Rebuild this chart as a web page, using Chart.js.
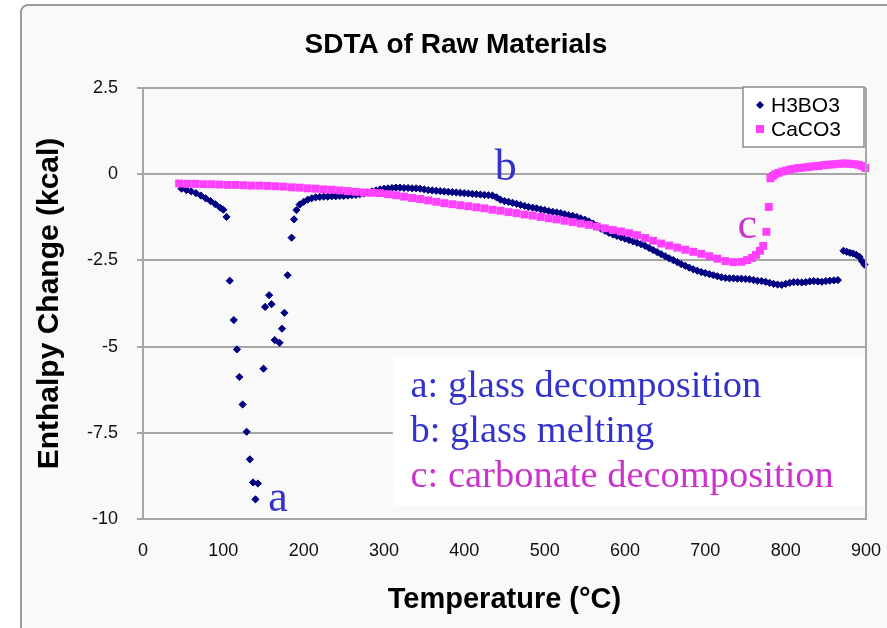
<!DOCTYPE html>
<html>
<head>
<meta charset="utf-8">
<title>SDTA of Raw Materials</title>
<script src="https://cdn.jsdelivr.net/npm/chart.js@4.4.1/dist/chart.umd.min.js"></script>
<style>
  html, body { margin: 0; padding: 0; background: #ffffff; }
  canvas { display: block; }
</style>
</head>
<body>
<canvas id="sdta" width="887" height="628"></canvas>
<script>
// H3BO3 readings (temperature in C, enthalpy change in kcal)
const h3bo3Temp = [
  48, 54, 60, 66, 72, 78, 84, 90, 96, 100,
  104, 108, 113, 117, 120, 124, 129, 133, 137, 140,
  143, 150, 152, 157, 160, 164, 170, 173, 176, 180,
  185, 188, 191, 195, 200, 205, 210, 215, 220, 225,
  230, 235, 240, 245, 250, 255, 260, 265, 270, 275,
  280, 285, 290, 295, 300, 305, 310, 315, 320, 325,
  330, 335, 340, 345, 350, 355, 360, 365, 370, 375,
  380, 385, 390, 395, 400, 405, 410, 415, 420, 425,
  430, 435, 440, 445, 450, 455, 460, 465, 470, 475,
  480, 485, 490, 495, 500, 505, 510, 515, 520, 525,
  530, 535, 540, 545, 550, 555, 560, 565, 570, 575,
  580, 585, 590, 595, 600, 605, 610, 615, 620, 625,
  630, 635, 640, 645, 650, 655, 660, 665, 670, 675,
  680, 685, 690, 695, 700, 705, 710, 715, 720, 725,
  730, 735, 740, 745, 750, 755, 760, 765, 770, 775,
  780, 785, 790, 795, 800, 805, 810, 815, 820, 825,
  830, 835, 840, 845, 850, 855, 860, 865, 872, 876,
  880, 884, 888, 892, 895, 898
];
const h3bo3Enthalpy = [
  -0.42, -0.46, -0.50, -0.55, -0.62, -0.70, -0.78, -0.87, -0.97, -1.03,
  -1.24, -3.09, -4.23, -5.08, -5.88, -6.68, -7.47, -8.27, -8.94, -9.43,
  -8.97, -5.64, -3.85, -3.51, -3.77, -4.81, -4.89, -4.48, -4.02, -2.93,
  -1.84, -1.31, -1.04, -0.88, -0.80, -0.74, -0.70, -0.67, -0.66, -0.65,
  -0.65, -0.64, -0.64, -0.63, -0.63, -0.62, -0.61, -0.60, -0.58, -0.56,
  -0.53, -0.50, -0.47, -0.44, -0.42, -0.41, -0.40, -0.39, -0.39, -0.40,
  -0.40, -0.41, -0.41, -0.42, -0.44, -0.46, -0.47, -0.48, -0.49, -0.50,
  -0.51, -0.52, -0.53, -0.54, -0.55, -0.56, -0.57, -0.58, -0.59, -0.60,
  -0.61, -0.62, -0.67, -0.74, -0.78, -0.80, -0.83, -0.86, -0.89, -0.92,
  -0.95, -0.97, -0.99, -1.02, -1.04, -1.07, -1.09, -1.11, -1.13, -1.16,
  -1.19, -1.21, -1.24, -1.28, -1.32, -1.37, -1.43, -1.50, -1.58, -1.64,
  -1.70, -1.75, -1.79, -1.83, -1.87, -1.91, -1.95, -1.99, -2.03, -2.08,
  -2.14, -2.20, -2.26, -2.32, -2.38, -2.44, -2.49, -2.55, -2.61, -2.66,
  -2.71, -2.76, -2.80, -2.84, -2.87, -2.90, -2.93, -2.96, -2.99, -3.01,
  -3.02, -3.02, -3.03, -3.03, -3.04, -3.05, -3.07, -3.09, -3.10, -3.12,
  -3.15, -3.18, -3.20, -3.21, -3.18, -3.15, -3.13, -3.13, -3.14, -3.13,
  -3.11, -3.10, -3.11, -3.12, -3.10, -3.09, -3.08, -3.07, -2.22, -2.25,
  -2.28, -2.30, -2.34, -2.40, -2.52, -2.62
];

// CaCO3 readings
const caco3Temp = [
  45, 55, 65, 75, 85, 95, 105, 115, 125, 135,
  145, 155, 165, 175, 185, 195, 205, 215, 225, 235,
  245, 255, 265, 275, 285, 295, 305, 315, 325, 335,
  345, 355, 365, 375, 385, 395, 405, 415, 425, 435,
  445, 455, 465, 475, 485, 495, 505, 515, 525, 535,
  545, 555, 565, 575, 585, 595, 605, 615, 625, 635,
  645, 655, 665, 675, 685, 695, 705, 715, 725, 735,
  745, 752, 758, 763, 768, 772, 776, 779, 781, 784,
  787, 791, 796, 801, 806, 811, 816, 821, 826, 831,
  836, 841, 846, 851, 856, 861, 866, 871, 876, 881,
  886, 891, 895, 899
];
const caco3Enthalpy = [
  -0.27, -0.28, -0.28, -0.29, -0.29, -0.30, -0.31, -0.31, -0.32, -0.33,
  -0.33, -0.34, -0.35, -0.36, -0.38, -0.39, -0.41, -0.42, -0.44, -0.45,
  -0.47, -0.49, -0.51, -0.53, -0.54, -0.55, -0.58, -0.61, -0.65, -0.69,
  -0.72, -0.76, -0.80, -0.84, -0.87, -0.90, -0.93, -0.96, -0.99, -1.03,
  -1.06, -1.10, -1.13, -1.17, -1.20, -1.24, -1.28, -1.31, -1.35, -1.39,
  -1.43, -1.47, -1.52, -1.57, -1.62, -1.66, -1.71, -1.77, -1.85, -1.93,
  -2.01, -2.07, -2.13, -2.19, -2.25, -2.31, -2.38, -2.45, -2.52, -2.55,
  -2.54, -2.49, -2.43, -2.34, -2.22, -2.08, -1.67, -0.95, -0.12, -0.05,
  0.00, 0.04, 0.08, 0.11, 0.14, 0.16, 0.18, 0.19, 0.20, 0.22,
  0.23, 0.24, 0.26, 0.27, 0.28, 0.29, 0.30, 0.31, 0.31, 0.30,
  0.29, 0.27, 0.24, 0.18
];

const seriesNames = ['H3BO3', 'CaCO3'];
const xTickLabels = ['0', '100', '200', '300', '400', '500', '600', '700', '800', '900'];
const yTickLabels = ['-10', '-7.5', '-5', '-2.5', '0', '2.5'];

// annotation letters placed in data units
const markLetters = [
  { text: 'a', t: 156, v: -9.77, color: '#3333cc' },
  { text: 'b', t: 438, v: -0.17, color: '#3333cc' },
  { text: 'c', t: 740, v: -1.86, color: '#cc33cc' }
];
const noteLines = [
  { text: 'a: glass decomposition', v: -6.47, color: '#3333cc' },
  { text: 'b: glass melting', v: -7.77, color: '#3333cc' },
  { text: 'c: carbonate decomposition', v: -9.08, color: '#cc33cc' }
];

const toPoints = (xs, ys) => xs.map((t, i) => ({ x: t, y: ys[i] }));

const navy = '#000080';
const pink = '#ff40ff';
const gridGray = '#a6a6a6';

const decor = {
  id: 'decor',
  beforeDraw(chart) {
    const ctx = chart.ctx;
    ctx.save();
    ctx.fillStyle = '#ffffff';
    ctx.fillRect(0, 0, chart.width, chart.height);
    ctx.beginPath();
    ctx.roundRect(21, 5, chart.width + 30, chart.height + 30, 7);
    ctx.fillStyle = '#f9f9f9';
    ctx.fill();
    ctx.lineWidth = 2;
    ctx.strokeStyle = '#9c9c9c';
    ctx.stroke();
    ctx.restore();
  },
  beforeDatasetsDraw(chart) {
    // text box behind the notes hides part of the grid
    const { ctx, chartArea, scales: { x, y } } = chart;
    const left = x.getPixelForValue(311);
    const top = y.getPixelForValue(-5.3);
    ctx.save();
    ctx.fillStyle = '#ffffff';
    ctx.fillRect(left, top, chartArea.right - left - 1, y.getPixelForValue(-9.6) - top);
    ctx.restore();
  },
  afterDraw(chart) {
    const { ctx, chartArea: a, scales: { x, y } } = chart;
    ctx.save();
    // right edge of plot frame
    ctx.strokeStyle = gridGray;
    ctx.lineWidth = 2;
    ctx.beginPath();
    ctx.moveTo(a.right, a.top);
    ctx.lineTo(a.right, a.bottom);
    ctx.stroke();

    // chart title
    ctx.fillStyle = '#000';
    ctx.font = 'bold 28px "Liberation Sans", Arial, sans-serif';
    ctx.textAlign = 'center';
    ctx.textBaseline = 'middle';
    ctx.fillText('SDTA of Raw Materials', 456, 45);

    // notes
    ctx.textAlign = 'left';
    ctx.textBaseline = 'alphabetic';
    ctx.font = '38.5px "Liberation Serif", "Times New Roman", serif';
    noteLines.forEach(n => {
      ctx.fillStyle = n.color;
      ctx.fillText(n.text, x.getPixelForValue(333), y.getPixelForValue(n.v));
    });
    ctx.font = '44px "Liberation Serif", "Times New Roman", serif';
    markLetters.forEach(m => {
      ctx.fillStyle = m.color;
      ctx.fillText(m.text, x.getPixelForValue(m.t), y.getPixelForValue(m.v));
    });

    // legend box
    const bx = a.right - 123, by = a.top - 1, bw = 121, bh = 60;
    ctx.fillStyle = '#ffffff';
    ctx.fillRect(bx, by, bw, bh);
    ctx.strokeStyle = '#8c8c8c';
    ctx.lineWidth = 1.5;
    ctx.strokeRect(bx, by, bw, bh);
    const rows = [by + 18, by + 42];
    // diamond
    ctx.fillStyle = navy;
    ctx.beginPath();
    ctx.moveTo(bx + 17, rows[0] - 4);
    ctx.lineTo(bx + 21, rows[0]);
    ctx.lineTo(bx + 17, rows[0] + 4);
    ctx.lineTo(bx + 13, rows[0]);
    ctx.closePath();
    ctx.fill();
    // square
    ctx.fillStyle = pink;
    ctx.fillRect(bx + 13, rows[1] - 4, 8, 8);
    ctx.fillStyle = '#000';
    ctx.font = '21px "Liberation Sans", Arial, sans-serif';
    ctx.textBaseline = 'middle';
    ctx.fillText(seriesNames[0], bx + 28, rows[0] + 1);
    ctx.fillText(seriesNames[1], bx + 28, rows[1] + 1);
    ctx.restore();
  }
};

const chart = new Chart(document.getElementById('sdta'), {
  type: 'scatter',
  data: {
    datasets: [
      {
        label: seriesNames[0],
        data: toPoints(h3bo3Temp, h3bo3Enthalpy),
        pointStyle: 'rectRot',
        pointRadius: 3.6,
        pointBackgroundColor: navy,
        pointBorderColor: navy,
        pointBorderWidth: 1,
        order: 2,
        clip: 8
      },
      {
        label: seriesNames[1],
        data: toPoints(caco3Temp, caco3Enthalpy),
        pointStyle: 'rect',
        pointRadius: 5.6,
        pointBackgroundColor: pink,
        pointBorderColor: pink,
        pointBorderWidth: 0,
        order: 1,
        clip: 8
      }
    ]
  },
  options: {
    responsive: false,
    animation: false,
    events: [],
    layout: { padding: { left: 21, right: 21, top: 88, bottom: 0 } },
    plugins: {
      legend: { display: false },
      title: { display: false },
      tooltip: { enabled: false }
    },
    scales: {
      x: {
        type: 'linear',
        min: 0,
        max: 900,
        afterFit: (s) => { s.height = 109; s.paddingLeft = 0; s.paddingRight = 0; },
        afterBuildTicks: (s) => { s.ticks = xTickLabels.map(v => ({ value: Number(v) })); },
        ticks: {
          callback: (v, i) => xTickLabels[i],
          padding: 21,
          color: '#111',
          font: { family: '"Liberation Sans", Arial, sans-serif', size: 18 }
        },
        grid: { display: false, drawTicks: false },
        border: { display: true, color: gridGray, width: 2 },
        title: {
          display: true,
          text: 'Temperature (°C)',
          color: '#000',
          font: { family: '"Liberation Sans", Arial, sans-serif', size: 29, weight: 'bold' },
          padding: { top: 0, bottom: 11 }
        }
      },
      y: {
        type: 'linear',
        min: -10,
        max: 2.5,
        afterFit: (s) => { s.width = 122; s.paddingTop = 0; s.paddingBottom = 0; },
        afterBuildTicks: (s) => { s.ticks = yTickLabels.map(v => ({ value: Number(v) })); },
        ticks: {
          callback: (v, i) => yTickLabels[i],
          padding: 19,
          color: '#111',
          font: { family: '"Liberation Sans", Arial, sans-serif', size: 18 }
        },
        grid: { color: gridGray, lineWidth: 2, drawTicks: true, tickLength: 6, tickColor: gridGray },
        border: { display: true, color: gridGray, width: 2 },
        title: {
          display: true,
          text: 'Enthalpy Change (kcal)',
          color: '#000',
          font: { family: '"Liberation Sans", Arial, sans-serif', size: 30, weight: 'bold' },
          padding: { top: 11, bottom: 0 }
        }
      }
    }
  },
  plugins: [decor]
});
</script>
</body>
</html>
